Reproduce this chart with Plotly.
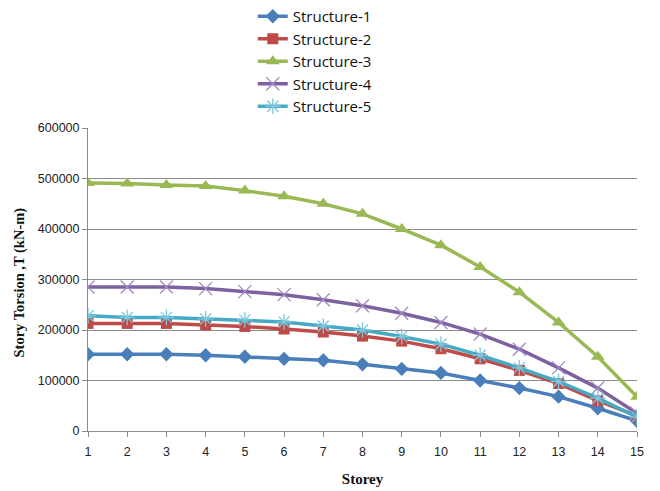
import plotly.graph_objects as go

storey = list(range(1, 16))
s1 = [152000, 152000, 152000, 150000, 147000, 143000, 140000, 132000, 123000, 115000, 100000, 85000, 68000, 45000, 20000]
s2 = [213000, 213000, 213000, 210000, 207000, 202000, 196000, 188000, 178000, 163000, 143000, 120000, 94000, 60000, 30000]
s3 = [491000, 490000, 487000, 485000, 476000, 465000, 450000, 430000, 400000, 368000, 325000, 275000, 215000, 147000, 68000]
s4 = [285000, 285000, 285000, 282000, 276000, 270000, 260000, 248000, 233000, 215000, 192000, 162000, 125000, 85000, 35000]
s5 = [228000, 225000, 225000, 222000, 220000, 216000, 208000, 200000, 187000, 172000, 150000, 125000, 98000, 65000, 28000]

names = ["Structure-1", "Structure-2", "Structure-3", "Structure-4", "Structure-5"]
series = [s1, s2, s3, s4, s5]
colors = ["#4A7EBB", "#BE4B48", "#98B954", "#7D60A0", "#46AAC5"]
symbols = ["diamond", "square", "triangle-up", "x-thin", "asterisk"]
sizes = [11, 11, 12, 13, 13]
ytick_vals = [0, 100000, 200000, 300000, 400000, 500000, 600000]
ytick_text = ["0", "100000", "200000", "300000", "400000", "500000", "600000"]

fig = go.Figure()
for n, s, c, sym, sz in zip(names, series, colors, symbols, sizes):
    marker = dict(symbol=sym, size=sz, color=c)
    if sym in ("x-thin", "asterisk"):
        marker["line"] = dict(color="#A08CC0" if sym == "x-thin" else "#7CC8DC", width=1.3)
    fig.add_trace(go.Scatter(x=storey, y=s, name=n, mode="lines+markers",
                             line=dict(color=c, width=3.5), marker=marker))

fig.update_layout(
    width=660, height=491,
    margin=dict(l=88, r=23, t=128, b=60, autoexpand=False),
    paper_bgcolor="white", plot_bgcolor="white",
    font=dict(family="Liberation Sans, Arial", size=12.5, color="#222"),
    legend=dict(xref="container", yref="container", x=0.383, y=1.0,
                xanchor="left", yanchor="top",
                font=dict(family="Open Sans, Liberation Sans", size=15, color="#111"),
                tracegroupgap=0, itemwidth=30, bgcolor="rgba(0,0,0,0)"),
    xaxis=dict(
        range=[1, 15], tickmode="array", tickvals=storey, tickangle=0,
        showgrid=False, showline=True, linecolor="#8C8C8C", linewidth=1,
        ticks="outside", ticklen=5, tickcolor="#8C8C8C", ticklabelstandoff=4,
        title=dict(text="<b>Storey</b>", font=dict(family="Liberation Serif, Times New Roman", size=15, color="#111"), standoff=15),
        zeroline=False,
    ),
    yaxis=dict(
        range=[0, 600000], tickmode="array", tickvals=ytick_vals, ticktext=ytick_text,
        showgrid=True, gridcolor="#8C8C8C", gridwidth=1,
        showline=True, linecolor="#8C8C8C", linewidth=1,
        ticks="outside", ticklen=5, tickcolor="#8C8C8C",
        zeroline=False,
    ),
    annotations=[dict(
        text="<b>Story Torsion ,T (kN-m)</b>", xref="paper", yref="paper",
        x=-0.124, y=0.49, xanchor="center", yanchor="middle", textangle=-90,
        showarrow=False,
        font=dict(family="Liberation Serif, Times New Roman", size=14.5, color="#111"),
    )],
)

fig.write_html("out.html", config={"displayModeBar": False},
               post_script="document.body.style.margin='0';")
